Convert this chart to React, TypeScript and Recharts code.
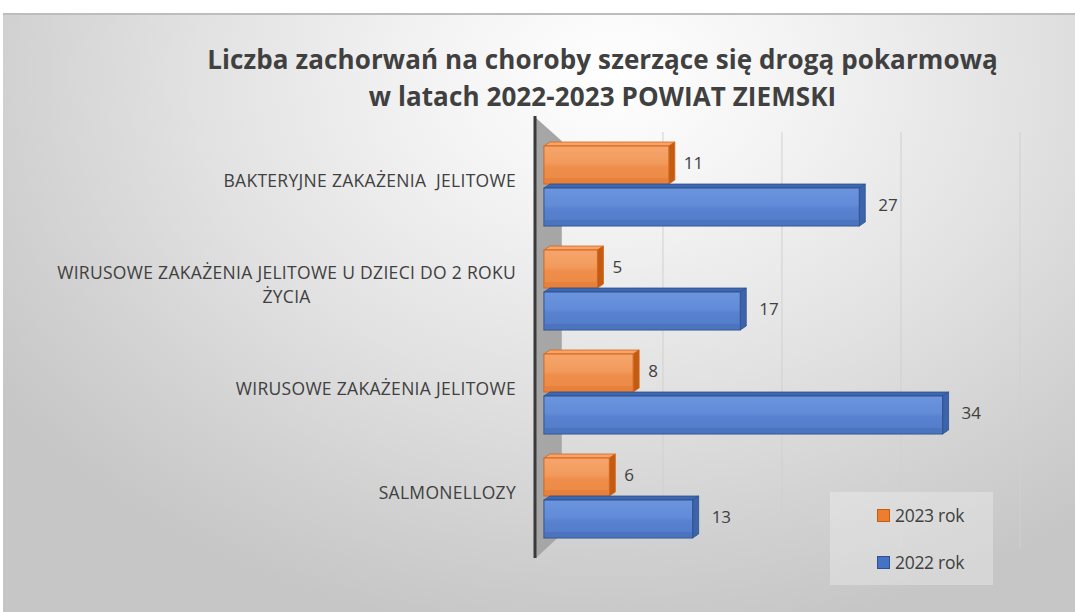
import React, { useLayoutEffect, useRef, useState } from "react";
import { BarChart, Bar, XAxis, YAxis, CartesianGrid, LabelList, Legend, ReferenceArea } from "recharts";

const categories = [
  "BAKTERYJNE ZAKAŻENIA  JELITOWE",
  "WIRUSOWE ZAKAŻENIA JELITOWE U DZIECI DO 2 ROKU\nŻYCIA",
  "WIRUSOWE ZAKAŻENIA JELITOWE",
  "SALMONELLOZY",
];
const values2023 = [11, 5, 8, 6];
const values2022 = [27, 17, 34, 13];
const seriesKeys = ["y2023", "y2022"];
const seriesNames = ["2023 rok", "2022 rok"];
const xTicks = [10, 20, 30, 40];
const titleLines = [
  "Liczba zachorwań na choroby szerzące się drogą pokarmową",
  "w latach 2022-2023 POWIAT ZIEMSKI",
];

const data = categories.map((c, i) => ({ name: c, y2023: values2023[i], y2022: values2022[i] }));

const FONT = "'Open Sans', Lato, sans-serif";
const TEXT = "#404040";

function CategoryTick(props: any) {
  const { x, y, payload } = props;
  const lines = String(payload.value).split("\n");
  const ref = useRef<SVGTextElement>(null);
  const [w, setW] = useState(0);
  useLayoutEffect(() => {
    if (ref.current) setW(ref.current.getComputedTextLength());
  }, [payload.value]);
  const lh = 24;
  const startY = y - 3 - ((lines.length - 1) * lh) / 2;
  return (
    <g>
      {lines.map((ln, i) => (
        <text
          key={i}
          ref={i === 0 ? ref : undefined}
          x={i === 0 ? x : x - w / 2}
          y={startY + i * lh}
          dy="0.35em"
          textAnchor={i === 0 ? "end" : "middle"}
          fill={TEXT}
          fontSize={17.5}
          fontFamily={FONT}
          letterSpacing={0.3}
          style={{ whiteSpace: "pre" }}
        >
          {ln}
        </text>
      ))}
    </g>
  );
}

function makeBar3D(kind: "o" | "b") {
  const c =
    kind === "o"
      ? { front: "url(#gOrange)", top: "#f7a468", side: "#c55a11", stroke: "#d2661c" }
      : { front: "url(#gBlue)", top: "#3f67b0", side: "#3d63aa", stroke: "#2f528f" };
  return (props: any) => {
    const { x, y, width, height } = props;
    if (!width || width <= 0) return <g />;
    const dx = 6;
    const dy = 4;
    const fx2 = x + width - dx;
    return (
      <g>
        <polygon
          points={`${x},${y + dy} ${x + dx},${y} ${x + width},${y} ${fx2},${y + dy}`}
          fill={c.top}
          stroke={c.stroke}
          strokeWidth={0.8}
        />
        <polygon
          points={`${fx2},${y + dy} ${x + width},${y} ${x + width},${y + height - dy} ${fx2},${y + height}`}
          fill={c.side}
          stroke={c.stroke}
          strokeWidth={0.8}
        />
        <rect x={x} y={y + dy} width={width - dx} height={height - dy} fill={c.front} stroke={c.stroke} strokeWidth={1} />
        <rect x={x + 1} y={y + height - 6} width={width - dx - 2} height={5} fill={kind === "o" ? "#e57f3a" : "#4a71bc"} opacity={0.8} />
      </g>
    );
  };
}

const OrangeBar = makeBar3D("o");
const BlueBar = makeBar3D("b");

function Wall(props: any) {
  const { x, y, width, height } = props;
  const top = y - 16;
  const bot = y + height + 10;
  const xr = x + width;
  return (
    <g>
      <polygon
        points={`${x + 1},${top + 2} ${xr},${top + 25} ${xr},${bot - 24} ${x + 1},${bot}`}
        fill="#a6a6a6"
      />
      <line x1={x} y1={top} x2={x} y2={bot} stroke="#3a3a3a" strokeWidth={3} />
    </g>
  );
}

function LegendBox(props: any) {
  const payload = [...(props.payload || [])].sort(
    (a: any, b: any) => seriesKeys.indexOf(a.dataKey) - seriesKeys.indexOf(b.dataKey)
  );
  const colors: Record<string, { f: string; s: string }> = {
    y2023: { f: "#ed7d31", s: "#c55a11" },
    y2022: { f: "#4472c4", s: "#2f528f" },
  };
  return (
    <div
      style={{
        width: 163,
        height: 93,
        background: "rgba(255,255,255,0.28)",
        position: "relative",
        fontFamily: FONT,
      }}
    >
      {payload.map((p: any, i: number) => {
        const col = colors[p.dataKey] || { f: p.color, s: p.color };
        return (
          <div
            key={i}
            style={{
              position: "absolute",
              left: 47,
              top: 11 + i * 47,
              display: "flex",
              alignItems: "center",
              height: 24,
            }}
          >
            <span
              style={{
                display: "inline-block",
                width: 11,
                height: 11,
                background: col.f,
                border: `1px solid ${col.s}`,
                marginRight: 5,
              }}
            />
            <span style={{ fontSize: 17.5, color: TEXT, letterSpacing: -0.3 }}>{p.value}</span>
          </div>
        );
      })}
    </div>
  );
}

export default function App() {
  return (
    <div style={{ position: "absolute", left: 0, top: 0, width: 1075, height: 612, background: "#fff", overflow: "hidden" }}>
      <div
        style={{
          position: "absolute",
          left: 3,
          top: 13,
          right: 0,
          bottom: 0,
          borderTop: "2px solid #bdbdbd",
          background:
            "radial-gradient(ellipse 70% 95% at 57% 10%, #ffffff 0%, #f3f3f3 25%, #e2e2e2 55%, #d2d2d2 80%, #c6c6c6 100%)",
        }}
      />
      <div
        style={{
          position: "absolute",
          left: 130,
          top: 41,
          width: 945,
          textAlign: "center",
          fontFamily: FONT,
          fontWeight: 700,
          fontSize: 26,
          letterSpacing: 0.1,
          lineHeight: "37px",
          color: TEXT,
        }}
      >
        {titleLines.map((t, i) => (
          <div key={i}>{t}</div>
        ))}
      </div>
      <div style={{ position: "absolute", left: 0, top: 0 }}>
        <BarChart
          width={1075}
          height={612}
          data={data}
          layout="vertical"
          margin={{ top: 132, right: 55, bottom: 64, left: 0 }}
          barCategoryGap={10}
          barGap={0}
        >
          <defs>
            <linearGradient id="gOrange" x1="0" y1="0" x2="0" y2="1">
              <stop offset="0%" stopColor="#f6a56c" />
              <stop offset="45%" stopColor="#f29a5c" />
              <stop offset="55%" stopColor="#ef8e4c" />
              <stop offset="100%" stopColor="#ec8844" />
            </linearGradient>
            <linearGradient id="gBlue" x1="0" y1="0" x2="0" y2="1">
              <stop offset="0%" stopColor="#6c95df" />
              <stop offset="45%" stopColor="#628bd8" />
              <stop offset="55%" stopColor="#5882cf" />
              <stop offset="100%" stopColor="#527cc8" />
            </linearGradient>
          </defs>
          <CartesianGrid horizontal={false} vertical={true} stroke="#d0d0d0" strokeWidth={1} />
          <XAxis type="number" domain={[-0.75, 40]} ticks={xTicks} hide />
          <YAxis
            type="category"
            dataKey="name"
            width={535}
            axisLine={false}
            tickLine={false}
            tickSize={0}
            tickMargin={19}
            tick={<CategoryTick />}
            interval={0}
          />
          <ReferenceArea x1={-0.75} x2={1.5} ifOverflow="visible" shape={<Wall />} />
          <Legend
            layout="horizontal"
            verticalAlign="middle"
            align="center"
            content={<LegendBox />}
            wrapperStyle={{ position: "absolute", left: 830, top: 492, width: 163, height: 93 }}
          />
          <Bar dataKey="y2023" name={seriesNames[0]} fill="#ed7d31" shape={OrangeBar} isAnimationActive={false}>
            <LabelList dataKey="y2023" position="right" offset={9} fill={TEXT} fontSize={17} fontFamily={FONT} />
          </Bar>
          <Bar dataKey="y2022" name={seriesNames[1]} fill="#4472c4" shape={BlueBar} isAnimationActive={false}>
            <LabelList dataKey="y2022" position="right" offset={13} fill={TEXT} fontSize={17} fontFamily={FONT} />
          </Bar>
        </BarChart>
      </div>
    </div>
  );
}
